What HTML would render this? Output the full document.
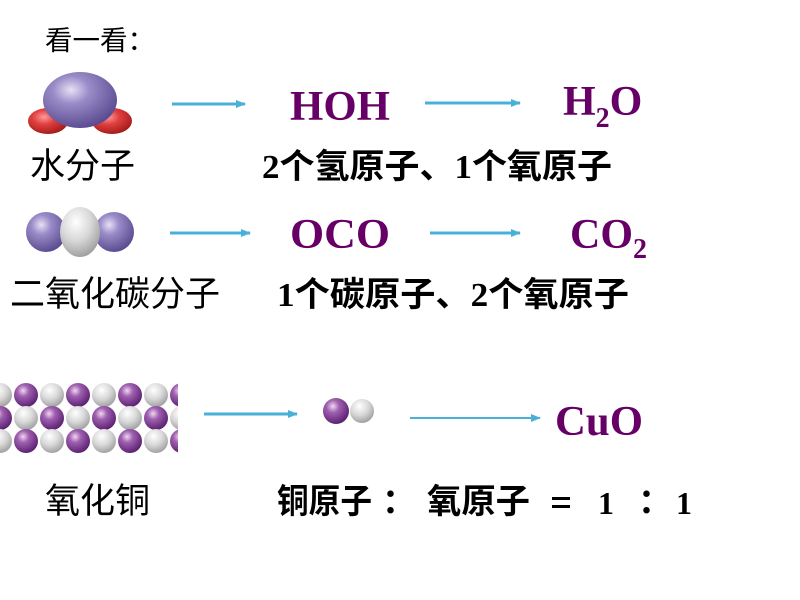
<!DOCTYPE html>
<html><head><meta charset="utf-8"><style>
html,body{margin:0;padding:0;background:#fff;width:800px;height:600px;overflow:hidden}
svg{display:block}
.f{font-family:"Liberation Serif",serif;font-weight:bold;fill:#660066}
.c{font-family:"Liberation Serif","Noto Sans CJK SC",sans-serif;fill:#000}
</style></head><body>
<svg width="800" height="600" viewBox="0 0 800 600" xmlns="http://www.w3.org/2000/svg">
<defs>
<radialGradient id="pu" cx="0.38" cy="0.32" r="0.7"><stop offset="0" stop-color="#e8e0f5"/><stop offset="0.35" stop-color="#9a8cc8"/><stop offset="1" stop-color="#5a4a90"/></radialGradient>
<radialGradient id="rd" cx="0.4" cy="0.35" r="0.7"><stop offset="0" stop-color="#ff9a9a"/><stop offset="0.4" stop-color="#e04040"/><stop offset="1" stop-color="#a01818"/></radialGradient>
<radialGradient id="gr" cx="0.4" cy="0.3" r="0.75"><stop offset="0" stop-color="#ffffff"/><stop offset="0.5" stop-color="#d8d8d8"/><stop offset="1" stop-color="#9a9a9a"/></radialGradient>
<radialGradient id="mg" cx="0.38" cy="0.32" r="0.7"><stop offset="0" stop-color="#f0d8f0"/><stop offset="0.35" stop-color="#a060b0"/><stop offset="1" stop-color="#5a2070"/></radialGradient>
<marker id="ah" markerWidth="10" markerHeight="8" refX="9" refY="4" orient="auto" markerUnits="userSpaceOnUse"><path d="M0,0 L10,4 L0,8 Z" fill="#4ab0d8"/></marker>
</defs>
<text x="45" y="50" class="c" font-size="27" textLength="110" lengthAdjust="spacingAndGlyphs">看一看：</text>
<ellipse cx="48" cy="121" rx="20" ry="13" fill="url(#rd)"/>
<ellipse cx="112" cy="121" rx="20" ry="13" fill="url(#rd)"/>
<ellipse cx="80" cy="100" rx="37" ry="28" fill="url(#pu)"/>
<line x1="172" y1="104" x2="245" y2="104" stroke="#4ab0d8" stroke-width="3" marker-end="url(#ah)"/>
<text x="290" y="120" class="f" font-size="42" textLength="100" lengthAdjust="spacingAndGlyphs">HOH</text>
<line x1="425" y1="103" x2="520" y2="103" stroke="#4ab0d8" stroke-width="3" marker-end="url(#ah)"/>
<text x="563" y="115" class="f" font-size="42">H<tspan font-size="28" dy="12">2</tspan><tspan dy="-12">O</tspan></text>
<text x="30" y="178" class="c" font-size="35" textLength="105" lengthAdjust="spacingAndGlyphs">水分子</text>
<text x="262" y="178" class="c" font-size="34" font-weight="bold" textLength="350" lengthAdjust="spacingAndGlyphs">2个氢原子、1个氧原子</text>
<circle cx="46" cy="232" r="20" fill="url(#pu)"/>
<circle cx="114" cy="232" r="20" fill="url(#pu)"/>
<ellipse cx="80" cy="232" rx="20" ry="25" fill="url(#gr)"/>
<line x1="170" y1="233" x2="250" y2="233" stroke="#4ab0d8" stroke-width="3" marker-end="url(#ah)"/>
<text x="290" y="248" class="f" font-size="42" textLength="100" lengthAdjust="spacingAndGlyphs">OCO</text>
<line x1="430" y1="233" x2="520" y2="233" stroke="#4ab0d8" stroke-width="3" marker-end="url(#ah)"/>
<text x="570" y="248" class="f" font-size="42">CO<tspan font-size="28" dy="10">2</tspan></text>
<text x="10" y="306" class="c" font-size="35" textLength="210" lengthAdjust="spacingAndGlyphs">二氧化碳分子</text>
<text x="277" y="306" class="c" font-size="34" font-weight="bold" textLength="352" lengthAdjust="spacingAndGlyphs">1个碳原子、2个氧原子</text>
<svg x="0" y="380" width="178" height="76" viewBox="0 0 178 76">
<g>
<circle cx="0" cy="15" r="12" fill="url(#gr)"/><circle cx="26" cy="15" r="12" fill="url(#mg)"/><circle cx="52" cy="15" r="12" fill="url(#gr)"/><circle cx="78" cy="15" r="12" fill="url(#mg)"/><circle cx="104" cy="15" r="12" fill="url(#gr)"/><circle cx="130" cy="15" r="12" fill="url(#mg)"/><circle cx="156" cy="15" r="12" fill="url(#gr)"/><circle cx="182" cy="15" r="12" fill="url(#mg)"/>
<circle cx="0" cy="38" r="12" fill="url(#mg)"/><circle cx="26" cy="38" r="12" fill="url(#gr)"/><circle cx="52" cy="38" r="12" fill="url(#mg)"/><circle cx="78" cy="38" r="12" fill="url(#gr)"/><circle cx="104" cy="38" r="12" fill="url(#mg)"/><circle cx="130" cy="38" r="12" fill="url(#gr)"/><circle cx="156" cy="38" r="12" fill="url(#mg)"/><circle cx="182" cy="38" r="12" fill="url(#gr)"/>
<circle cx="0" cy="61" r="12" fill="url(#gr)"/><circle cx="26" cy="61" r="12" fill="url(#mg)"/><circle cx="52" cy="61" r="12" fill="url(#gr)"/><circle cx="78" cy="61" r="12" fill="url(#mg)"/><circle cx="104" cy="61" r="12" fill="url(#gr)"/><circle cx="130" cy="61" r="12" fill="url(#mg)"/><circle cx="156" cy="61" r="12" fill="url(#gr)"/><circle cx="182" cy="61" r="12" fill="url(#mg)"/>
</g></svg>
<line x1="204" y1="414" x2="297" y2="414" stroke="#4ab0d8" stroke-width="3" marker-end="url(#ah)"/>
<circle cx="336" cy="411" r="13" fill="url(#mg)"/>
<circle cx="362" cy="411" r="12" fill="url(#gr)"/>
<line x1="410" y1="418" x2="540" y2="418" stroke="#4ab0d8" stroke-width="2" marker-end="url(#ah)"/>
<text x="555" y="435" class="f" font-size="42" textLength="88" lengthAdjust="spacingAndGlyphs">CuO</text>
<text x="45" y="513" class="c" font-size="35" textLength="105" lengthAdjust="spacingAndGlyphs">氧化铜</text>
<text x="277" y="513" class="c" font-size="34" font-weight="bold" textLength="95" lengthAdjust="spacingAndGlyphs">铜原子</text>
<text x="382" y="513" class="c" font-size="34" font-weight="bold">：</text>
<text x="427" y="513" class="c" font-size="34" font-weight="bold" textLength="103" lengthAdjust="spacingAndGlyphs">氧原子</text>
<rect x="552" y="497" width="18" height="3" fill="#000"/>
<rect x="552" y="505" width="18" height="3" fill="#000"/>
<text x="598" y="514" class="c" font-size="32" font-weight="bold">1</text>
<text x="638" y="513" class="c" font-size="34" font-weight="bold">：</text>
<text x="676" y="514" class="c" font-size="32" font-weight="bold">1</text>
</svg>
</body></html>
